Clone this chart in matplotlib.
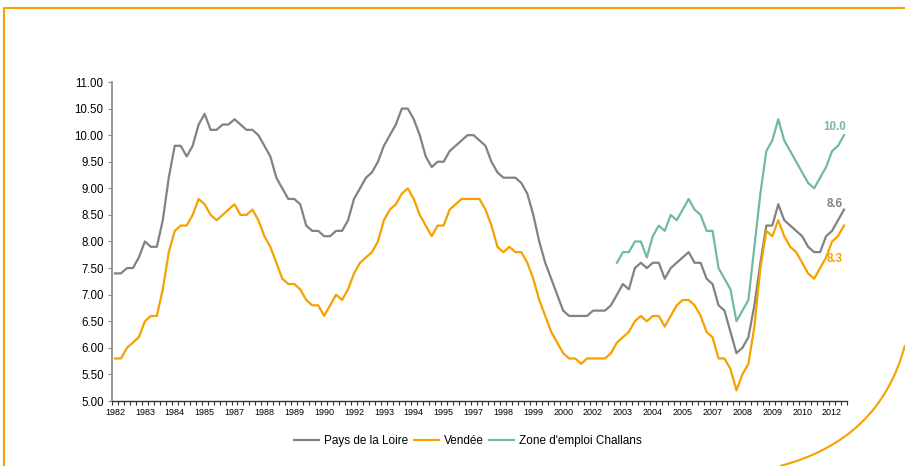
import matplotlib.pyplot as plt
from matplotlib.lines import Line2D
from matplotlib.path import Path
from matplotlib.patches import PathPatch
import numpy as np

plt.rcParams['font.family'] = ['Liberation Sans', 'DejaVu Sans']

# quarterly values, 1982 Q1 -> 2012 Q3
pays_loire = [7.4, 7.4, 7.5, 7.5, 7.7, 8.0, 7.9, 7.9, 8.4, 9.2,
              9.8, 9.8, 9.6, 9.8, 10.2, 10.4, 10.1, 10.1, 10.2, 10.2,
              10.3, 10.2, 10.1, 10.1, 10.0, 9.8, 9.6, 9.2, 9.0, 8.8,
              8.8, 8.7, 8.3, 8.2, 8.2, 8.1, 8.1, 8.2, 8.2, 8.4,
              8.8, 9.0, 9.2, 9.3, 9.5, 9.8, 10.0, 10.2, 10.5, 10.5,
              10.3, 10.0, 9.6, 9.4, 9.5, 9.5, 9.7, 9.8, 9.9, 10.0,
              10.0, 9.9, 9.8, 9.5, 9.3, 9.2, 9.2, 9.2, 9.1, 8.9,
              8.5, 8.0, 7.6, 7.3, 7.0, 6.7, 6.6, 6.6, 6.6, 6.6,
              6.7, 6.7, 6.7, 6.8, 7.0, 7.2, 7.1, 7.5, 7.6, 7.5,
              7.6, 7.6, 7.3, 7.5, 7.6, 7.7, 7.8, 7.6, 7.6, 7.3,
              7.2, 6.8, 6.7, 6.3, 5.9, 6.0, 6.2, 6.8, 7.6, 8.3,
              8.3, 8.7, 8.4, 8.3, 8.2, 8.1, 7.9, 7.8, 7.8, 8.1,
              8.2, 8.4, 8.6]

vendee = [5.8, 5.8, 6.0, 6.1, 6.2, 6.5, 6.6, 6.6, 7.1, 7.8,
          8.2, 8.3, 8.3, 8.5, 8.8, 8.7, 8.5, 8.4, 8.5, 8.6,
          8.7, 8.5, 8.5, 8.6, 8.4, 8.1, 7.9, 7.6, 7.3, 7.2,
          7.2, 7.1, 6.9, 6.8, 6.8, 6.6, 6.8, 7.0, 6.9, 7.1,
          7.4, 7.6, 7.7, 7.8, 8.0, 8.4, 8.6, 8.7, 8.9, 9.0,
          8.8, 8.5, 8.3, 8.1, 8.3, 8.3, 8.6, 8.7, 8.8, 8.8,
          8.8, 8.8, 8.6, 8.3, 7.9, 7.8, 7.9, 7.8, 7.8, 7.6,
          7.3, 6.9, 6.6, 6.3, 6.1, 5.9, 5.8, 5.8, 5.7, 5.8,
          5.8, 5.8, 5.8, 5.9, 6.1, 6.2, 6.3, 6.5, 6.6, 6.5,
          6.6, 6.6, 6.4, 6.6, 6.8, 6.9, 6.9, 6.8, 6.6, 6.3,
          6.2, 5.8, 5.8, 5.6, 5.2, 5.5, 5.7, 6.4, 7.5, 8.2,
          8.1, 8.4, 8.1, 7.9, 7.8, 7.6, 7.4, 7.3, 7.5, 7.7,
          8.0, 8.1, 8.3]

# Zone d'emploi Challans starts in 2003 Q1
challans = [7.6, 7.8, 7.8, 8.0, 8.0, 7.7, 8.1, 8.3, 8.2, 8.5,
            8.4, 8.6, 8.8, 8.6, 8.5, 8.2, 8.2, 7.5, 7.3, 7.1,
            6.5, 6.7, 6.9, 7.9, 8.9, 9.7, 9.9, 10.3, 9.9, 9.7,
            9.5, 9.3, 9.1, 9.0, 9.2, 9.4, 9.7, 9.8, 10.0]
challans_start = 84

n = len(pays_loire)
quarters = [(1982 + i // 4) for i in range(n)]
label_idx = list(range(0, n, 5))
labels = [str(quarters[i]) for i in label_idx]

c_gray = '#828282'
c_orange = '#F5A100'
c_teal = '#72B9A3'

fig = plt.figure(figsize=(9.05, 4.66), dpi=100)
ax = fig.add_axes([112 / 905, 1 - 401 / 466, 735 / 905, 319 / 466])

x = np.arange(n)
ax.plot(x, pays_loire, color=c_gray, lw=1.6, label='Pays de la Loire')
ax.plot(x, vendee, color=c_orange, lw=1.6, label='Vendée')
xc = np.arange(challans_start, challans_start + len(challans))
ax.plot(xc, challans, color=c_teal, lw=1.6, label="Zone d'emploi Challans")

ax.set_xlim(-0.5, n - 0.5)
ax.set_ylim(5, 11)
ax.set_yticks(np.arange(5, 11.01, 0.5))
ax.set_yticklabels(['%.2f' % v for v in np.arange(5, 11.01, 0.5)], fontsize=8.3)
ax.set_xticks(label_idx)
ax.set_xticklabels(labels, fontsize=6.5)
ax.set_xticks(np.arange(-0.5, n, 1), minor=True)
ax.tick_params(axis='x', which='major', length=0, pad=5)
ax.tick_params(axis='x', which='minor', length=3, width=0.8, color='#333333')
ax.tick_params(axis='y', length=3, width=0.8, color='#888888', pad=3)

for s in ['top', 'right']:
    ax.spines[s].set_visible(False)
ax.spines['left'].set_color('#888888')
ax.spines['left'].set_linewidth(1.2)
ax.spines['bottom'].set_color('#333333')
ax.spines['bottom'].set_linewidth(1.0)

# end-point labels
ax.text(n - 2.6, challans[-1] + 0.15, '10.0', color=c_teal, fontsize=8.3,
        fontweight='bold', ha='center', va='center')
ax.text(n - 2.6, pays_loire[-1] + 0.1, '8.6', color=c_gray, fontsize=8.3,
        fontweight='bold', ha='center', va='center')
ax.text(n - 2.6, vendee[-1] - 0.63, '8.3', color=c_orange, fontsize=8.3,
        fontweight='bold', ha='center', va='center')

fig.legend(loc='center', bbox_to_anchor=(468 / 905, 1 - 441 / 466), ncol=3,
           frameon=False, fontsize=8.5, handlelength=2.1, handletextpad=0.4,
           columnspacing=0.5)

# slide frame decoration
fig.add_artist(Line2D([4 / 905, 4 / 905, 1], [0, 1 - 8 / 466, 1 - 8 / 466],
                      transform=fig.transFigure, color=c_orange, lw=1.5))
verts = [(905 / 905, 1 - 345 / 466), (880 / 905, 1 - 440 / 466), (780 / 905, 0)]
curve = Path(verts, [Path.MOVETO, Path.CURVE3, Path.CURVE3])
fig.add_artist(PathPatch(curve, transform=fig.transFigure, fill=False,
                         edgecolor=c_orange, lw=1.5))

fig.savefig('out.png', dpi=100)
